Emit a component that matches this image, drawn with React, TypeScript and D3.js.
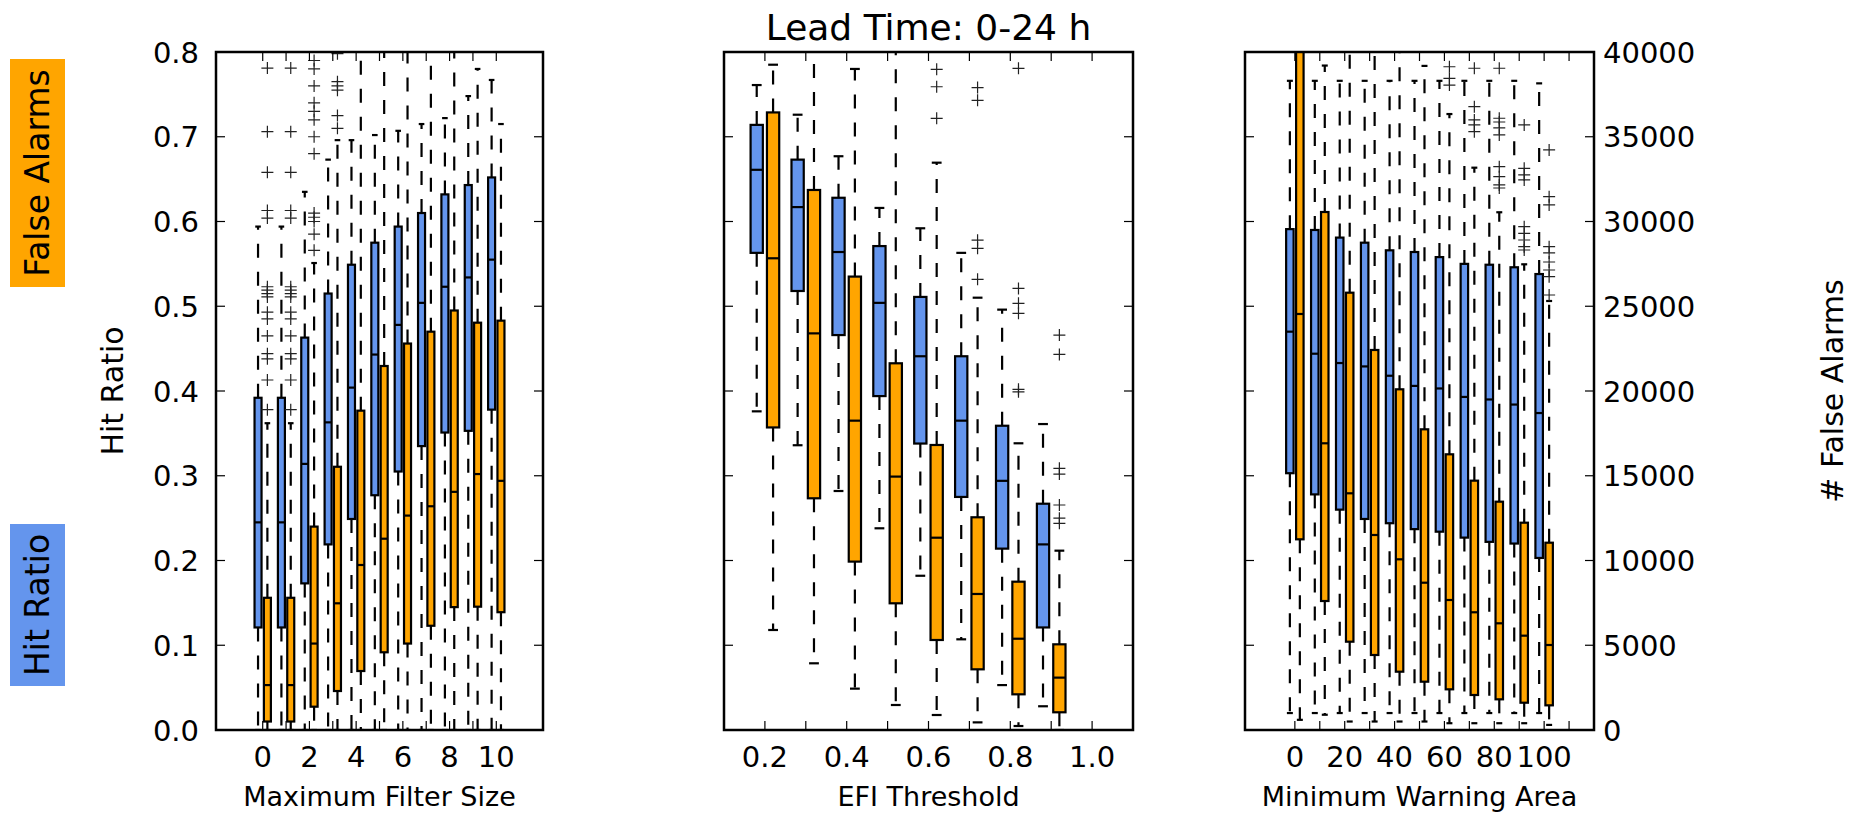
import React, { useEffect, useRef } from "react";
import * as d3 from "d3";

// [lower whisker, q1, median, q3, upper whisker]
type Stat = [number, number, number, number, number];

// ---- panel 1: maximum filter size ----
const filterSizes = [0, 1, 2, 3, 4, 5, 6, 7, 8, 9, 10];
const filterTicks = [0, 1, 2, 3, 4, 5, 6, 7, 8, 9, 10];
const filterTickLabels = [0, 2, 4, 6, 8, 10];
const filterHitStats: Stat[] = [
  [0, 0.121, 0.245, 0.392, 0.594],
  [0, 0.121, 0.245, 0.392, 0.594],
  [0, 0.173, 0.314, 0.463, 0.635],
  [0, 0.219, 0.363, 0.515, 0.673],
  [0, 0.249, 0.404, 0.549, 0.696],
  [0, 0.277, 0.443, 0.575, 0.702],
  [0, 0.305, 0.478, 0.594, 0.707],
  [0, 0.335, 0.504, 0.61, 0.715],
  [0, 0.351, 0.523, 0.632, 0.722],
  [0, 0.353, 0.534, 0.643, 0.748],
  [0, 0.378, 0.555, 0.652, 0.767],
];
const filterHitFliers: number[][] = [[], [], [], [], [], [], [], [], [], [], []];
const filterFaStats: Stat[] = [
  [0, 500, 2650, 7800, 18100],
  [0, 500, 2650, 7800, 18100],
  [0, 1375, 5100, 12000, 27550],
  [0, 2300, 7475, 15530, 34800],
  [0, 3480, 9735, 18840, 42000],
  [0, 4585, 11285, 21475, 43000],
  [0, 5100, 12650, 22800, 43000],
  [0, 6150, 13200, 23500, 43000],
  [0, 7250, 14050, 24750, 42000],
  [0, 7275, 15100, 24030, 39000],
  [0, 6950, 14700, 24150, 35750],
];
const filterFaFliers: number[][] = [
  [18900, 20650, 21900, 22200, 23250, 24250, 24650, 25550, 25750, 25950, 26150, 30200, 30650, 32900, 35300, 39050],
  [18900, 20650, 21900, 22200, 23250, 24250, 24650, 25550, 25750, 25950, 26150, 30200, 30650, 32900, 35300, 39050],
  [28300, 29250, 30000, 30250, 30500, 34000, 35000, 36000, 36500, 37000, 38000, 39000, 39500],
  [35500, 36250, 37750, 38000, 38250, 39900],
  [], [], [], [], [], [], [],
];

// ---- panel 2: EFI threshold ----
const efiThresholds = [0.2, 0.3, 0.4, 0.5, 0.6, 0.7, 0.8, 0.9];
const efiTicks = [0.2, 0.3, 0.4, 0.5, 0.6, 0.7, 0.8, 0.9, 1.0];
const efiTickLabels = [0.2, 0.4, 0.6, 0.8, 1.0];
const efiHitStats: Stat[] = [
  [0.376, 0.563, 0.661, 0.714, 0.761],
  [0.336, 0.518, 0.617, 0.673, 0.726],
  [0.282, 0.466, 0.564, 0.628, 0.677],
  [0.238, 0.394, 0.504, 0.571, 0.616],
  [0.182, 0.338, 0.441, 0.511, 0.592],
  [0.107, 0.275, 0.365, 0.441, 0.563],
  [0.053, 0.214, 0.294, 0.359, 0.496],
  [0.028, 0.121, 0.219, 0.267, 0.361],
];
const efiHitFliers: number[][] = [[], [], [], [], [], [], [], []];
const efiFaStats: Stat[] = [
  [5900, 17850, 27830, 36435, 39250],
  [3935, 13670, 23400, 31860, 40500],
  [2440, 9935, 18250, 26750, 39000],
  [1475, 7475, 14950, 21635, 40500],
  [885, 5310, 11345, 16815, 33470],
  [450, 3580, 8025, 12550, 25505],
  [235, 2105, 5385, 8750, 16915],
  [0, 1045, 3090, 5055, 10580],
];
const efiFaFliers: number[][] = [
  [], [], [], [],
  [36085, 37950, 38975],
  [26590, 28420, 28900, 37150, 37900],
  [19950, 20100, 24580, 25170, 26050, 39035],
  [12195, 12495, 13275, 15100, 15440, 22160, 23300],
];

// ---- panel 3: minimum warning area ----
const warningAreas = [0, 10, 20, 30, 40, 50, 60, 70, 80, 90, 100];
const areaTicks = [0, 10, 20, 30, 40, 50, 60, 70, 80, 90, 100, 110];
const areaTickLabels = [0, 20, 40, 60, 80, 100];
const areaHitStats: Stat[] = [
  [0.02, 0.303, 0.47, 0.591, 0.766],
  [0.02, 0.278, 0.444, 0.59, 0.766],
  [0.02, 0.26, 0.433, 0.581, 0.766],
  [0.02, 0.249, 0.429, 0.575, 0.766],
  [0.02, 0.244, 0.418, 0.566, 0.766],
  [0.02, 0.237, 0.406, 0.564, 0.766],
  [0.02, 0.234, 0.403, 0.558, 0.766],
  [0.02, 0.227, 0.393, 0.55, 0.766],
  [0.02, 0.222, 0.39, 0.549, 0.766],
  [0.02, 0.22, 0.384, 0.546, 0.766],
  [0.02, 0.203, 0.374, 0.538, 0.763],
];
const areaHitFliers: number[][] = [[], [], [], [], [], [], [], [], [], [], []];
const areaFaStats: Stat[] = [
  [600, 11250, 24544, 41500, 48000],
  [900, 7610, 16915, 30560, 39200],
  [500, 5210, 13965, 25800, 41000],
  [500, 4425, 11505, 22420, 41000],
  [500, 3440, 10070, 20100, 41000],
  [500, 2850, 8690, 17740, 39180],
  [400, 2400, 7670, 16265, 36340],
  [400, 2065, 6945, 14710, 33175],
  [400, 1810, 6295, 13470, 30545],
  [400, 1610, 5565, 12230, 27475],
  [300, 1455, 5015, 11050, 25310],
];
const areaFaFliers: number[][] = [
  [], [], [], [], [], [],
  [38050, 38440, 39130],
  [35300, 35695, 35990, 36775, 39040],
  [31975, 32155, 32645, 33235, 35105, 35520, 35870, 36090, 39040],
  [28320, 28515, 28910, 29305, 29695, 32450, 32745, 33140, 35695],
  [25665, 26745, 27140, 27610, 28145, 28515, 30975, 31465, 34220],
];

// shared y axes
const hitTicks = [0, 0.1, 0.2, 0.3, 0.4, 0.5, 0.6, 0.7, 0.8];
const alarmTicks = [0, 5000, 10000, 15000, 20000, 25000, 30000, 35000, 40000];

const BLUE = "#6495ed";
const ORANGE = "#ffa500";
const FONT = "'DejaVu Sans', sans-serif";
const TOP = 52;
const BOTTOM = 730;
const TICK_FONT = "29px";
const LABEL_FONT = "27px";
const YLABEL_FONT = "30px";

const panels = [
  {
    left: 216, right: 543, domain: [-2, 12], step: 1,
    positions: filterSizes, ticks: filterTicks, tickLabels: filterTickLabels, fmt: d3.format("d"),
    xlabel: "Maximum Filter Size",
    hit: filterHitStats, hitFliers: filterHitFliers, fa: filterFaStats, faFliers: filterFaFliers,
    leftLabels: true, rightLabels: false,
  },
  {
    left: 724, right: 1133, domain: [0.1, 1.1], step: 0.1,
    positions: efiThresholds, ticks: efiTicks, tickLabels: efiTickLabels, fmt: d3.format(".1f"),
    xlabel: "EFI Threshold",
    hit: efiHitStats, hitFliers: efiHitFliers, fa: efiFaStats, faFliers: efiFaFliers,
    leftLabels: false, rightLabels: false,
  },
  {
    left: 1245, right: 1594, domain: [-20, 120], step: 10,
    positions: warningAreas, ticks: areaTicks, tickLabels: areaTickLabels, fmt: d3.format("d"),
    xlabel: "Minimum Warning Area",
    hit: areaHitStats, hitFliers: areaHitFliers, fa: areaFaStats, faFliers: areaFaFliers,
    leftLabels: false, rightLabels: true,
  },
];

const App = () => {
  const ref = useRef<SVGSVGElement>(null);

  useEffect(() => {
    const svg = d3.select(ref.current);
    svg.selectAll("*").remove();

    const yHit = d3.scaleLinear().domain([0, 0.8]).range([BOTTOM, TOP]);
    const yFa = d3.scaleLinear().domain([0, 40000]).range([BOTTOM, TOP]);
    const defs = svg.append("defs");

    const drawBoxes = (g, x, y, positions, stats, fliers, offset, color, step) => {
      const half = (0.3 * step) / 2;
      positions.forEach((p, i) => {
        const [lo, q1, med, q3, hi] = stats[i];
        const cx = x(p + offset * step);
        const bx0 = x(p + offset * step - half);
        const bx1 = x(p + offset * step + half);
        const capHalf = (bx1 - bx0) * 0.4;
        // whiskers + caps
        [[q1, lo], [q3, hi]].forEach(([a, b]) => {
          g.append("line")
            .attr("x1", cx).attr("x2", cx)
            .attr("y1", y(a)).attr("y2", y(b))
            .attr("stroke", "black").attr("stroke-width", 2.2)
            .attr("stroke-dasharray", "14 14");
          g.append("line")
            .attr("x1", cx - capHalf).attr("x2", cx + capHalf)
            .attr("y1", y(b)).attr("y2", y(b))
            .attr("stroke", "black").attr("stroke-width", 2.2);
        });
        // box
        g.append("rect")
          .attr("x", bx0).attr("y", y(q3))
          .attr("width", bx1 - bx0).attr("height", y(q1) - y(q3))
          .attr("fill", color).attr("stroke", "black").attr("stroke-width", 2.2);
        // median
        g.append("line")
          .attr("x1", bx0).attr("x2", bx1)
          .attr("y1", y(med)).attr("y2", y(med))
          .attr("stroke", "black").attr("stroke-width", 2.2);
        // fliers
        fliers[i].forEach((v) => {
          g.append("path")
            .attr("d", `M${cx - 6},${y(v)}h12M${cx},${y(v) - 6}v12`)
            .attr("stroke", "#222").attr("stroke-width", 1.2).attr("fill", "none");
        });
      });
    };

    panels.forEach((p, k) => {
      const x = d3.scaleLinear().domain(p.domain).range([p.left, p.right]);
      const clipId = `clip-${k}`;
      defs.append("clipPath").attr("id", clipId)
        .append("rect")
        .attr("x", p.left).attr("y", TOP)
        .attr("width", p.right - p.left).attr("height", BOTTOM - TOP);

      const g = svg.append("g").attr("clip-path", `url(#${clipId})`);
      drawBoxes(g, x, yHit, p.positions, p.hit, p.hitFliers, -0.2, BLUE, p.step);
      drawBoxes(g, x, yFa, p.positions, p.fa, p.faFliers, 0.2, ORANGE, p.step);

      // ticks (inward, all four sides)
      const t = svg.append("g").attr("stroke", "black").attr("stroke-width", 1.2);
      p.ticks.forEach((v) => {
        t.append("line").attr("x1", x(v)).attr("x2", x(v)).attr("y1", BOTTOM).attr("y2", BOTTOM - 9);
        t.append("line").attr("x1", x(v)).attr("x2", x(v)).attr("y1", TOP).attr("y2", TOP + 9);
      });
      hitTicks.forEach((v) => {
        t.append("line").attr("x1", p.left).attr("x2", p.left + 9).attr("y1", yHit(v)).attr("y2", yHit(v));
      });
      alarmTicks.forEach((v) => {
        t.append("line").attr("x1", p.right).attr("x2", p.right - 9).attr("y1", yFa(v)).attr("y2", yFa(v));
      });

      // spines
      svg.append("rect")
        .attr("x", p.left).attr("y", TOP)
        .attr("width", p.right - p.left).attr("height", BOTTOM - TOP)
        .attr("fill", "none").attr("stroke", "black").attr("stroke-width", 2.5);

      // x tick labels
      p.tickLabels.forEach((v) => {
        svg.append("text")
          .attr("x", x(v)).attr("y", 767)
          .attr("text-anchor", "middle")
          .style("font-family", FONT).style("font-size", TICK_FONT)
          .text(p.fmt(v));
      });
      svg.append("text")
        .attr("x", (p.left + p.right) / 2).attr("y", 806)
        .attr("text-anchor", "middle")
        .style("font-family", FONT).style("font-size", LABEL_FONT)
        .text(p.xlabel);

      if (p.leftLabels) {
        hitTicks.forEach((v) => {
          svg.append("text")
            .attr("x", p.left - 17).attr("y", yHit(v) + 10.5)
            .attr("text-anchor", "end")
            .style("font-family", FONT).style("font-size", TICK_FONT)
            .text(d3.format(".1f")(v));
        });
        svg.append("text")
          .attr("transform", `translate(123,${(TOP + BOTTOM) / 2}) rotate(-90)`)
          .attr("text-anchor", "middle")
          .style("font-family", FONT).style("font-size", YLABEL_FONT)
          .text("Hit Ratio");
      }
      if (p.rightLabels) {
        alarmTicks.forEach((v) => {
          svg.append("text")
            .attr("x", p.right + 9).attr("y", yFa(v) + 10.5)
            .attr("text-anchor", "start")
            .style("font-family", FONT).style("font-size", TICK_FONT)
            .text(v);
        });
        svg.append("text")
          .attr("transform", `translate(1843,${(TOP + BOTTOM) / 2}) rotate(-90)`)
          .attr("text-anchor", "middle")
          .style("font-family", FONT).style("font-size", YLABEL_FONT)
          .text("# False Alarms");
      }
    });

    // title
    svg.append("text")
      .attr("x", (panels[1].left + panels[1].right) / 2).attr("y", 40)
      .attr("text-anchor", "middle")
      .style("font-family", FONT).style("font-size", "36px")
      .text("Lead Time: 0-24 h");

    // colour key boxes
    const keys = [
      { label: "False Alarms", color: ORANGE, y0: 59, y1: 287 },
      { label: "Hit Ratio", color: BLUE, y0: 524, y1: 686 },
    ];
    keys.forEach((k) => {
      svg.append("rect")
        .attr("x", 10).attr("y", k.y0)
        .attr("width", 55).attr("height", k.y1 - k.y0)
        .attr("fill", k.color);
      svg.append("text")
        .attr("transform", `translate(49,${(k.y0 + k.y1) / 2}) rotate(-90)`)
        .attr("text-anchor", "middle")
        .style("font-family", FONT).style("font-size", "33px")
        .text(k.label);
    });
  }, []);

  return (
    <svg
      ref={ref}
      width={1854}
      height={815}
      style={{ position: "absolute", left: 0, top: 0, background: "white" }}
    />
  );
};

export default App;
